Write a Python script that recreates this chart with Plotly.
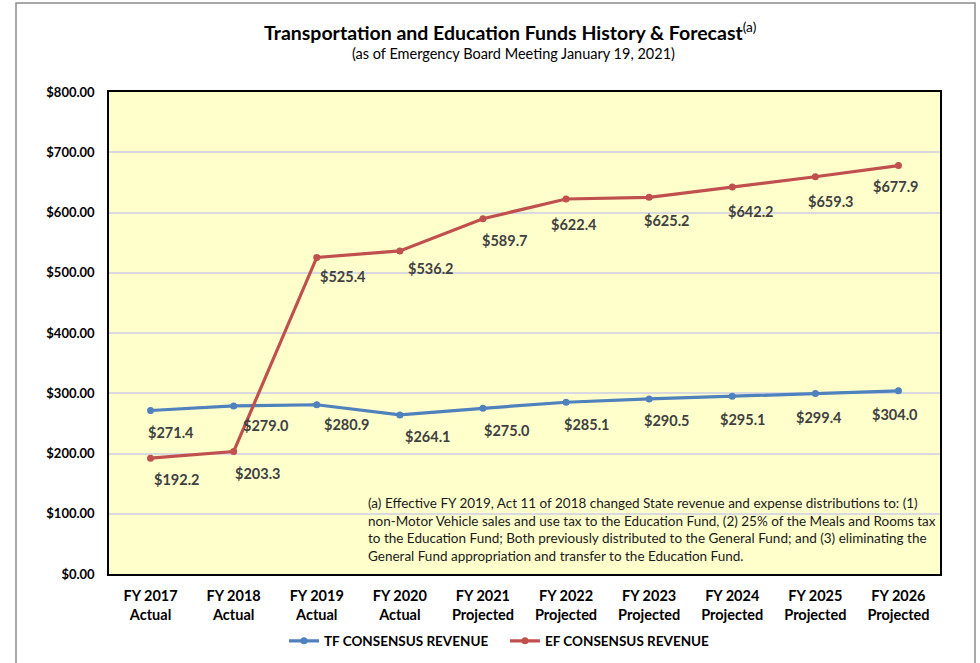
import plotly.graph_objects as go

categories = ["FY 2017", "FY 2018", "FY 2019", "FY 2020", "FY 2021",
              "FY 2022", "FY 2023", "FY 2024", "FY 2025", "FY 2026"]
status = ["Actual", "Actual", "Actual", "Actual", "Projected",
          "Projected", "Projected", "Projected", "Projected", "Projected"]
tf_values = [271.4, 279.0, 280.9, 264.1, 275.0, 285.1, 290.5, 295.1, 299.4, 304.0]
ef_values = [192.2, 203.3, 525.4, 536.2, 589.7, 622.4, 625.2, 642.2, 659.3, 677.9]
y_ticks = [0, 100, 200, 300, 400, 500, 600, 700, 800]

# label offsets in pixels (style, not data)
tf_dx = [20, 32, 30, 28, 24, 21, 18, 11, 4, -3]
tf_dy = [-22, -20, -20, -22, -22, -22, -22, -23, -24, -24]
ef_dx = [26, 24, 26, 31, 22, 8, 18, 19, 16, -2]
ef_dy = [-21, -22, -19, -18, -22, -25, -23, -24, -25, -21]

FONT = "Lato"
BLUE = "#4F81BD"
RED = "#C0504D"
LABEL = "#404040"

ticktext = [f"{c}<br>{s}" for c, s in zip(categories, status)]

fig = go.Figure()
fig.add_trace(go.Scatter(x=categories, y=tf_values, mode="lines+markers",
                         name="TF CONSENSUS REVENUE",
                         line=dict(color=BLUE, width=3.2),
                         marker=dict(color=BLUE, size=7)))
fig.add_trace(go.Scatter(x=categories, y=ef_values, mode="lines+markers",
                         name="EF CONSENSUS REVENUE",
                         line=dict(color=RED, width=3.2),
                         marker=dict(color=RED, size=7)))

annotations = []
for i, c in enumerate(categories):
    annotations.append(dict(x=c, y=tf_values[i], xref="x", yref="y",
                            text=f"${tf_values[i]:.1f}", showarrow=False,
                            xshift=tf_dx[i], yshift=tf_dy[i],
                            font=dict(family=FONT, size=14.5, color=LABEL, weight="bold")))
    annotations.append(dict(x=c, y=ef_values[i], xref="x", yref="y",
                            text=f"${ef_values[i]:.1f}", showarrow=False,
                            xshift=ef_dx[i], yshift=ef_dy[i],
                            font=dict(family=FONT, size=14.5, color=LABEL, weight="bold")))

annotations.append(dict(
    xref="paper", yref="paper", x=(366 - 109) / 831, y=(574 - 529) / 482,
    xanchor="left", yanchor="middle",
    align="left", showarrow=False,
    text=("(a) Effective FY 2019, Act 11 of 2018 changed State revenue and expense distributions to: (1)<br>"
          "non-Motor Vehicle sales and use tax to the Education Fund, (2) 25% of the Meals and Rooms tax<br>"
          "to the Education Fund; Both previously distributed to the General Fund; and (3) eliminating the<br>"
          "General Fund appropriation and transfer to the Education Fund."),
    font=dict(family=FONT, size=13.5, color="#1a1a1a")))

annotations.append(dict(
    xref="paper", yref="paper", x=(510 - 109) / 831, y=(574 - 31) / 482,
    xanchor="center", yanchor="middle", showarrow=False,
    text="<b>Transportation and Education Funds History &amp; Forecast</b><sup>(a)</sup>",
    font=dict(family=FONT, size=19.5, color="#000000")))
annotations.append(dict(
    xref="paper", yref="paper", x=(513 - 109) / 831, y=(574 - 53) / 482,
    xanchor="center", yanchor="middle", showarrow=False,
    text="(as of Emergency Board Meeting January 19, 2021)",
    font=dict(family=FONT, size=14.5, color="#000000")))

fig.update_layout(
    width=980, height=663,
    margin=dict(l=109, r=40, t=92, b=89, autoexpand=False),
    paper_bgcolor="white",
    plot_bgcolor="#FFFFCC",
    showlegend=True,
    legend=dict(orientation="h", x=(505 - 109) / 831, xanchor="center", y=(574 - 641) / 482,
                yanchor="middle", font=dict(family=FONT, size=13.5, color="#000", weight="bold"),
                itemwidth=30, entrywidthmode="pixels", entrywidth=176),
    annotations=annotations,
    shapes=[dict(type="rect", xref="paper", yref="paper",
                 x0=(16 - 109) / 831, x1=(975 - 109) / 831,
                 y0=(574 - 700) / 482, y1=(574 - 3) / 482,
                 line=dict(color="#8c8c8c", width=1.5), layer="below")],
)
fig.update_xaxes(type="category", tickvals=categories, ticktext=ticktext,
                 tickfont=dict(family=FONT, size=14.5, color="#000", weight="bold"),
                 showline=True, linecolor="#000", linewidth=1.5, mirror=True,
                 showgrid=False, ticks="", range=[-0.5, 9.5], automargin=False,
                 ticklabelstandoff=8)
fig.update_yaxes(range=[0, 800], tickvals=y_ticks,
                 ticktext=[f"${v:.2f}" for v in y_ticks],
                 tickfont=dict(family=FONT, size=13, color="#000", weight="bold"),
                 showline=True, linecolor="#000", linewidth=1.5, mirror=True,
                 gridcolor="#D9D9E0", gridwidth=1.5, zeroline=False, ticks="",
                 ticklabelstandoff=10, automargin=False)

fig.write_html("out.html", post_script="document.body.style.margin='0';",
               config={"displayModeBar": False})
